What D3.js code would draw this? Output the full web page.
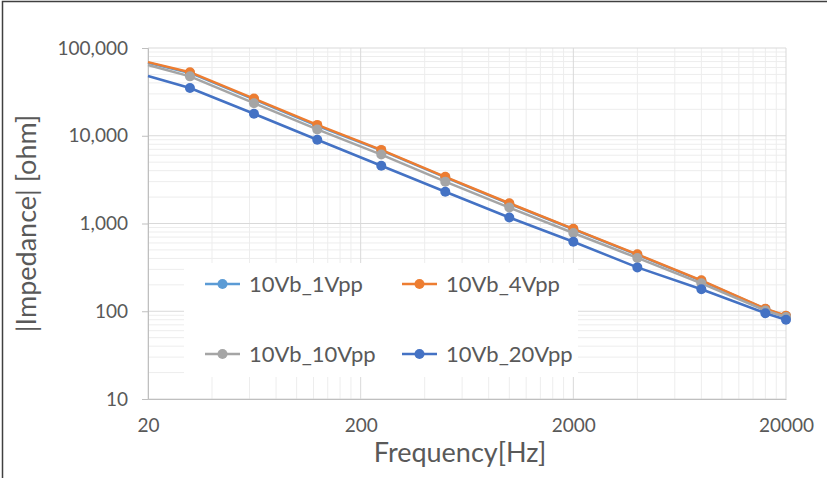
<!DOCTYPE html>
<html>
<head>
<meta charset="utf-8">
<script src="https://cdn.jsdelivr.net/npm/d3@7"></script>
<style>
  body { margin: 0; background: #fff; }
  svg { display: block; }
  text { font-family: Lato, "Open Sans", sans-serif; fill: #595959; }
</style>
</head>
<body>
<div id="wrapper"></div>
<script>
// data
const frequencies = [20, 31.5, 63, 125, 250, 500, 1000, 2000, 4000, 8000, 16000, 20000];
const seriesNames = ['10Vb_1Vpp', '10Vb_4Vpp', '10Vb_10Vpp', '10Vb_20Vpp'];
const seriesColors = ['#5b9bd5', '#ed7d31', '#a5a5a5', '#4472c4'];
const vpp1 = [68000, 52000, 26000, 13000, 6800, 3350, 1680, 860, 440, 222, 106, 88];
const vpp4 = [69000, 53000, 26500, 13300, 6900, 3400, 1700, 870, 445, 225, 107, 89];
const vpp10 = [64000, 47500, 23500, 11800, 6100, 3000, 1520, 780, 405, 208, 102, 86];
const vpp20 = [48000, 35000, 17800, 9000, 4550, 2300, 1170, 620, 316, 178, 95, 80];
const xTicks = [20, 200, 2000, 20000];
const yTicks = [10, 100, 1000, 10000, 100000];

const allSeries = [vpp1, vpp4, vpp10, vpp20];

const width = 827;
const height = 478;
const dimensions = {
    margin: { top: 48, right: 41, bottom: 79, left: 148 },
};
dimensions.boundedWidth = width - dimensions.margin.left - dimensions.margin.right;
dimensions.boundedHeight = height - dimensions.margin.top - dimensions.margin.bottom;

const svg = d3.select('#wrapper')
    .append('svg')
    .attr('width', width)
    .attr('height', height);

svg.append('rect').attr('width', width).attr('height', height).attr('fill', '#fff');

// outer frame (top and left edges visible)
svg.append('path')
    .attr('d', `M2.5,${height} V1.5 H${width}`)
    .attr('fill', 'none')
    .attr('stroke', '#404040')
    .attr('stroke-width', 1.5);

const bounds = svg.append('g')
    .attr('transform', `translate(${dimensions.margin.left},${dimensions.margin.top})`);

const x = d3.scaleLog()
    .domain([20, 20000])
    .range([0, dimensions.boundedWidth]);

const y = d3.scaleLog()
    .domain([10, 100000])
    .range([dimensions.boundedHeight, 0]);

// minor grid
const xMinor = [];
xTicks.slice(0, -1).forEach(t => d3.range(2, 10).forEach(m => xMinor.push(t * m)));
const yMinor = [];
yTicks.slice(0, -1).forEach(t => d3.range(2, 10).forEach(m => yMinor.push(t * m)));

bounds.append('g').selectAll('line')
    .data(xMinor)
    .join('line')
    .attr('x1', d => x(d)).attr('x2', d => x(d))
    .attr('y1', 0).attr('y2', dimensions.boundedHeight)
    .attr('stroke', '#ededed');

bounds.append('g').selectAll('line')
    .data(yMinor)
    .join('line')
    .attr('y1', d => y(d)).attr('y2', d => y(d))
    .attr('x1', 0).attr('x2', dimensions.boundedWidth)
    .attr('stroke', '#ededed');

// major grid
bounds.append('g').selectAll('line')
    .data(xTicks)
    .join('line')
    .attr('x1', d => x(d)).attr('x2', d => x(d))
    .attr('y1', 0).attr('y2', dimensions.boundedHeight)
    .attr('stroke', '#d9d9d9');

bounds.append('g').selectAll('line')
    .data(yTicks)
    .join('line')
    .attr('y1', d => y(d)).attr('y2', d => y(d))
    .attr('x1', 0).attr('x2', dimensions.boundedWidth)
    .attr('stroke', '#d9d9d9');

// axes
const xAxis = bounds.append('g')
    .attr('transform', `translate(0,${dimensions.boundedHeight})`)
    .call(d3.axisBottom(x).tickValues(xTicks).tickFormat(d3.format('d')).tickSize(0).tickPadding(20));
xAxis.select('.domain').attr('stroke', '#bfbfbf');
xAxis.selectAll('text').style('font-size', '19px').attr('fill', '#595959');

const yAxis = bounds.append('g')
    .call(d3.axisLeft(y).tickValues(yTicks).tickFormat(d3.format(',')).tickSize(6).tickPadding(14));
yAxis.select('.domain').attr('stroke', '#bfbfbf');
yAxis.selectAll('line').attr('stroke', '#bfbfbf');
yAxis.selectAll('text').style('font-size', '19px').attr('fill', '#595959');

// series
const line = d3.line()
    .x((d, i) => x(frequencies[i]))
    .y(d => y(d));

allSeries.forEach((values, s) => {
    const g = bounds.append('g');
    g.append('path')
        .datum(values)
        .attr('d', line)
        .attr('fill', 'none')
        .attr('stroke', seriesColors[s])
        .attr('stroke-width', 2.5)
        .attr('stroke-linejoin', 'round');
    g.selectAll('circle')
        .data(values.slice(1))
        .join('circle')
        .attr('cx', (d, i) => x(frequencies[i + 1]))
        .attr('cy', d => y(d))
        .attr('r', 5)
        .attr('fill', seriesColors[s]);
});

// legend
const legend = svg.append('g');
legend.append('rect')
    .attr('x', 184).attr('y', 263)
    .attr('width', 394).attr('height', 114)
    .attr('fill', '#fff');

const legendPos = [[205, 284], [402, 284], [205, 354], [402, 354]];
seriesNames.forEach((name, i) => {
    const [lx, ly] = legendPos[i];
    const item = legend.append('g').attr('transform', `translate(${lx},${ly})`);
    item.append('line')
        .attr('x1', 0).attr('x2', 35)
        .attr('stroke', seriesColors[i])
        .attr('stroke-width', 2.5);
    item.append('circle')
        .attr('cx', 17.5).attr('r', 5)
        .attr('fill', seriesColors[i]);
    item.append('text')
        .attr('x', 44)
        .attr('dy', '0.35em')
        .style('font-size', '22px')
        .text(name);
});

// axis titles
svg.append('text')
    .attr('x', 460)
    .attr('y', 462)
    .attr('text-anchor', 'middle')
    .style('font-size', '27px')
    .text('Frequency[Hz]');

svg.append('text')
    .attr('transform', `translate(36,${dimensions.margin.top + dimensions.boundedHeight / 2}) rotate(-90)`)
    .attr('text-anchor', 'middle')
    .style('font-size', '27px')
    .text('|Impedance|  [ohm]');
</script>
</body>
</html>
